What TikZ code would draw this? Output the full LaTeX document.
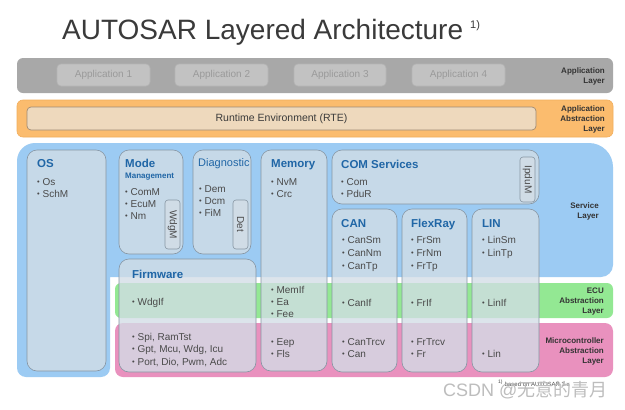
\documentclass[tikz,border=0pt]{standalone}
\usepackage{fontspec}
\setmainfont{Liberation Sans}
\newfontfamily\cjkfont{Noto Sans CJK SC}
\definecolor{titlegray}{HTML}{3A3A3A}
\definecolor{appband}{HTML}{A8A8A8}
\definecolor{appbox}{HTML}{C2C2C2}
\definecolor{appboxline}{HTML}{B4B4B4}
\definecolor{apptext}{HTML}{9A9A9A}
\definecolor{rteband}{HTML}{FBBC6E}
\definecolor{rtebandline}{HTML}{F2AE5C}
\definecolor{rtebox}{HTML}{EED9BD}
\definecolor{rteline}{HTML}{A08B74}
\definecolor{svcblue}{HTML}{9CCBF3}
\definecolor{ecugreen}{HTML}{93E893}
\definecolor{mcalpink}{HTML}{E991BE}
\definecolor{boxfill}{HTML}{D3DDE6}
\definecolor{boxline}{HTML}{8796A3}
\definecolor{titleblue}{HTML}{2066A6}
\definecolor{itemgray}{HTML}{4A4A4A}
\definecolor{layergray}{HTML}{333333}
\definecolor{wmgray}{HTML}{BDBDBD}
\newcommand\itmbul{\raisebox{0.6pt}{\fontsize{7.5}{8}\selectfont\textbullet}\ }
\tikzset{
  modbox/.style={draw=boxline, line width=0.6pt, fill=boxfill, fill opacity=0.78, rounded corners=10pt},
  subbox/.style={draw=boxline, line width=0.6pt, fill=boxfill, fill opacity=0.78, rounded corners=3pt},
  itm/.style={anchor=base west, inner sep=0pt, text=itemgray, font=\fontsize{10}{12}\selectfont},
  ttl/.style={anchor=base west, inner sep=0pt, text=titleblue, font=\bfseries\fontsize{11.5}{13}\selectfont},
  lyr/.style={anchor=base east, inner sep=0pt, text=layergray, font=\bfseries\fontsize{8}{10}\selectfont},
  vtxt/.style={rotate=-90, inner sep=0pt, text=itemgray, font=\fontsize{10}{12}\selectfont},
  apptxt/.style={inner sep=0pt, text=apptext, font=\fontsize{10}{12}\selectfont},
}
% #1 name prefix, #2 x, #3 first baseline, #4 line step, #5 lines
\newcommand\itemlines[5]{%
  \foreach \t [count=\k] in {#5}{\node[itm] (#1\k) at (#2,{#3+(\k-1)*#4}) {\itmbul\t};}}
\newcommand\layerlines[4]{%
  \foreach \t [count=\k] in {#4}{\node[lyr] (#1\k) at (#2,{#3+(\k-1)*10.3}) {\t};}}
\begin{document}
\begin{tikzpicture}[x=1pt,y=-1pt]
\useasboundingbox (0,0) rectangle (625,410);
\fill[white] (0,0) rectangle (625,410);
% title
\node[anchor=base west, inner sep=0pt, text=titlegray, font=\fontsize{28}{30}\selectfont] (title) at (62,39.5) {AUTOSAR Layered Architecture};
\node[anchor=base west, inner sep=0pt, text=titlegray, font=\fontsize{11}{12}\selectfont] (titlesup) at (470,28) {1)};
% application layer
\fill[appband, rounded corners=6pt] (17,58) rectangle (613,93);
\foreach \xa/\xb/\n in {57/150/1,175/268/2,294/386/3,412/505/4}{
  \path[draw=appboxline, fill=appbox, line width=0.6pt, rounded corners=4pt] (\xa,64) rectangle (\xb,86);
  \node[apptxt] (app\n) at ({(\xa+\xb)/2},75) {Application \n};
}
\layerlines{applyr}{605}{73.5}{Application,Layer}
% RTE
\path[fill=rteband, draw=rtebandline, line width=0.6pt, rounded corners=6pt] (17,100) rectangle (613,137);
\path[fill=rtebox, draw=rteline, line width=0.7pt, rounded corners=4pt] (27,107) rectangle (536,130);
\node[inner sep=0pt, text=titlegray, font=\fontsize{10.5}{12}\selectfont] (rte) at (281.5,118.5) {Runtime Environment (RTE)};
\layerlines{abslyr}{605}{111}{Application,Abstraction,Layer}
% service layer background
\fill[svcblue] (110,277) [rounded corners=9pt] -- (110,377) -- (17,377) [rounded corners=18pt] -- (17,143) [rounded corners=24pt] -- (613,143) [rounded corners=12pt] -- (613,277) [sharp corners] -- (110,277) -- cycle;
% ECU / MCAL bands
\fill[ecugreen, rounded corners=6pt] (115,283) rectangle (613,318);
\fill[mcalpink, rounded corners=8pt] (115,323) rectangle (613,377);
% module boxes
\path[modbox] (27,150) rectangle (106,371);
\path[modbox] (119,150) rectangle (183,254);
\path[modbox] (193,150) rectangle (251,254);
\path[modbox] (261,150) rectangle (327,371);
\path[modbox] (119,259) rectangle (256,372);
\path[modbox] (332,150) rectangle (539,204);
\path[modbox] (332,209) rectangle (397,372);
\path[modbox] (402,209) rectangle (467,372);
\path[modbox] (472,209) rectangle (539,372);
\path[subbox] (165,200) rectangle (180,249);
\path[subbox] (233,200) rectangle (248,249);
\path[subbox] (520,157) rectangle (535,202);
% OS
\node[ttl] (os) at (37,167) {OS};
\itemlines{osi}{37}{185}{12}{Os,SchM}
% Mode management
\node[ttl] (mode) at (125,167) {Mode};
\node[anchor=base west, inner sep=0pt, text=titleblue, font=\bfseries\fontsize{8}{9}\selectfont] (mgmt) at (125,178) {Management};
\itemlines{modei}{125}{195}{12.2}{ComM,EcuM,Nm}
\node[vtxt] (wdgm) at (172.5,224.5) {WdgM};
% Diagnostic
\node[anchor=base west, inner sep=0pt, text=titleblue, font=\fontsize{11}{13}\selectfont] (diag) at (198,166) {Diagnostic};
\itemlines{diagi}{199}{192}{12}{Dem,Dcm,FiM}
\node[vtxt] (det) at (240.5,224.5) {Det};
% Memory
\node[ttl] (mem) at (271,167) {Memory};
\itemlines{memi}{271}{185}{12}{NvM,Crc}
\itemlines{memecu}{271}{293}{12}{MemIf,Ea,Fee}
\itemlines{memmc}{271}{345}{12}{Eep,Fls}
% Firmware
\node[ttl] (fw) at (132,278) {Firmware};
\itemlines{fwecu}{132}{305}{12}{WdgIf}
\itemlines{fwmc}{132}{340}{12.5}{{Spi, RamTst},{Gpt, Mcu, Wdg, Icu},{Port, Dio, Pwm, Adc}}
% COM services
\node[ttl] (com) at (341,168) {COM Services};
\itemlines{comi}{341}{185}{12}{Com,PduR}
\node[vtxt] (ipdum) at (527.5,179.5) {IpduM};
% CAN
\node[ttl] (can) at (341,227) {CAN};
\itemlines{cani}{342}{243}{13}{CanSm,CanNm,CanTp}
\itemlines{canif}{342}{306}{12}{CanIf}
\itemlines{canmc}{342}{345}{12}{CanTrcv,Can}
% FlexRay
\node[ttl] (fr) at (411,227) {FlexRay};
\itemlines{fri}{411}{243}{13}{FrSm,FrNm,FrTp}
\itemlines{frif}{411}{306}{12}{FrIf}
\itemlines{frmc}{411}{345}{12}{FrTrcv,Fr}
% LIN
\node[ttl] (lin) at (482,227) {LIN};
\itemlines{lini}{482}{243}{13}{LinSm,LinTp}
\itemlines{linif}{482}{306}{12}{LinIf}
\itemlines{linmc}{482}{357}{12}{Lin}
% layer labels
\layerlines{svclyr}{599}{208}{Service,Layer}
\layerlines{eculyr}{604}{293}{ECU,Abstraction,Layer}
\layerlines{mclyr}{604}{343}{Microcontroller,Abstraction,Layer}
% footnote and watermark
\node[anchor=base west, inner sep=0pt, text=itemgray, font=\fontsize{6}{7}\selectfont] (foot) at (498,386) {\textsuperscript{1)} based on AUTOSAR 3.x};
\node[anchor=base west, inner sep=0pt, text=wmgray, font=\fontsize{18}{20}\selectfont] (wm) at (443,396) {CSDN @{\cjkfont 无意的青月}};
\end{tikzpicture}
\end{document}
